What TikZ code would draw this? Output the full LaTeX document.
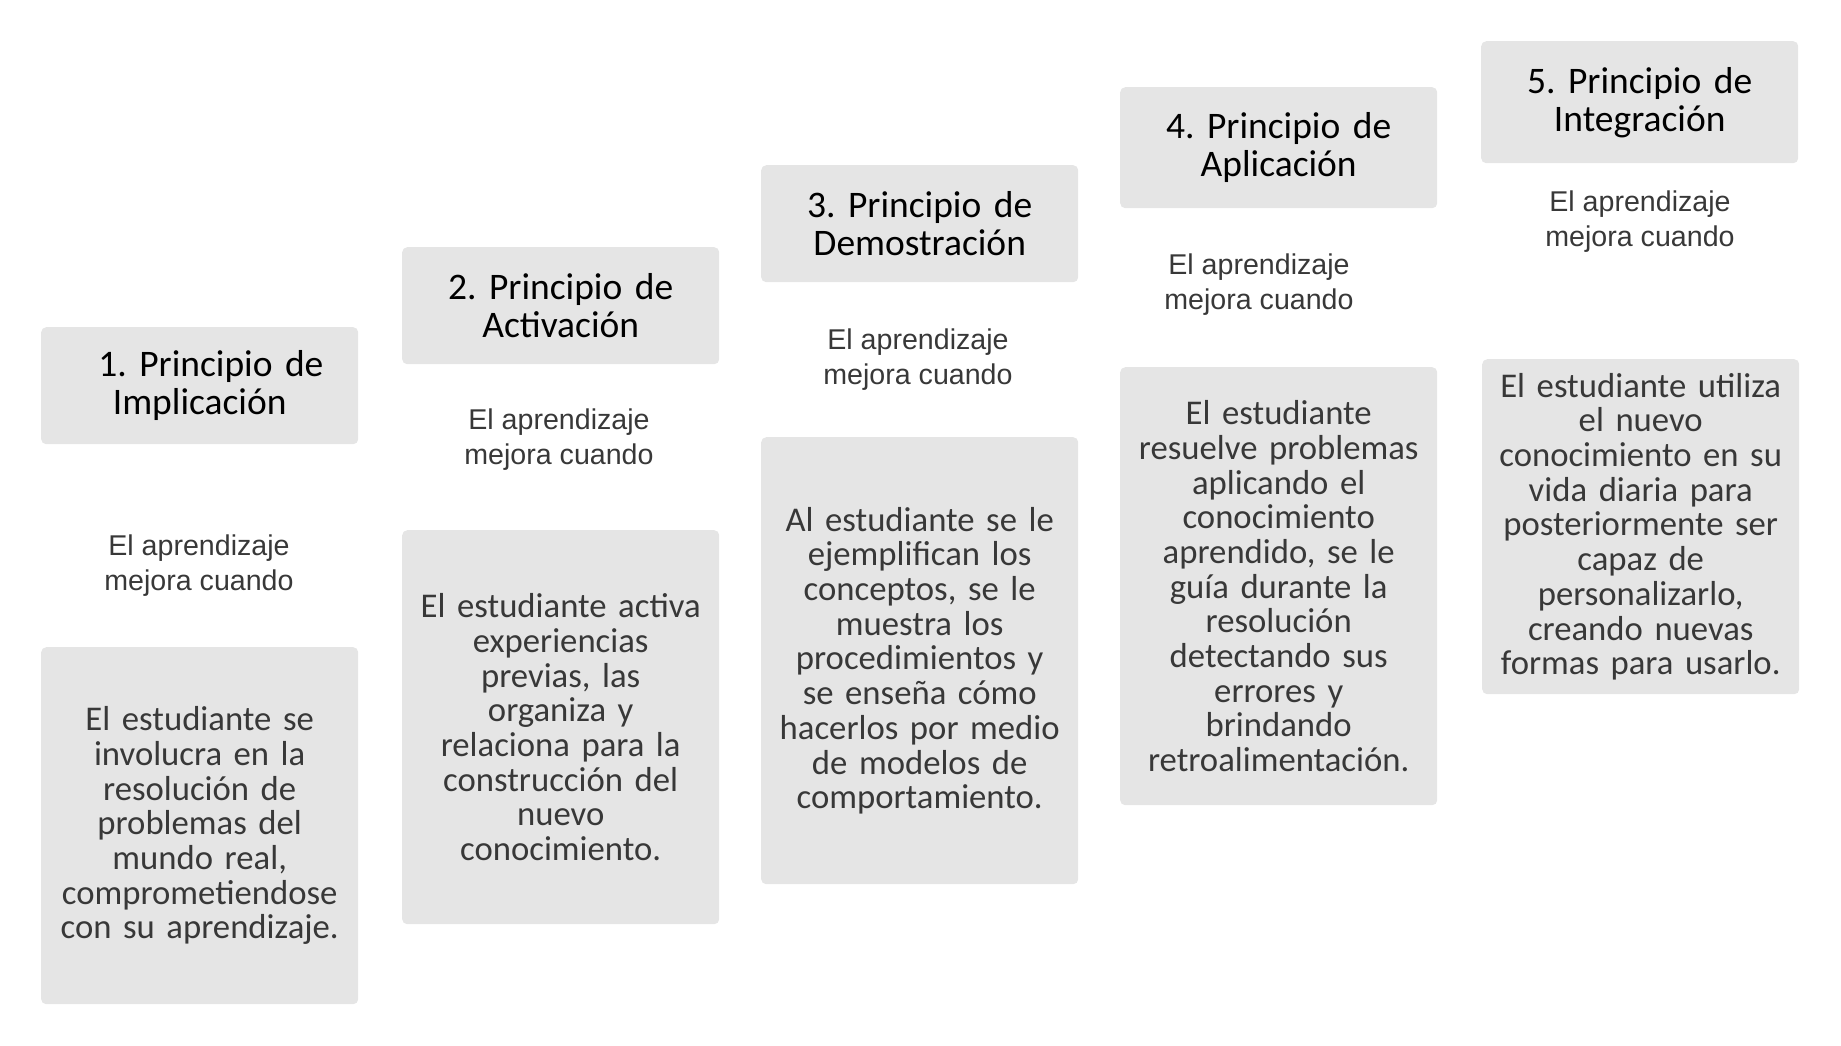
\documentclass[tikz,border=0pt]{standalone}
\usepackage{fontspec}
\newfontfamily\bodyfont{Carlito}
\newfontfamily\arialfont{Liberation Sans}
\definecolor{boxgray}{HTML}{E5E5E5}
\definecolor{bodytext}{HTML}{383838}
\frenchspacing
\begin{document}
\begin{tikzpicture}[x=1pt,y=-1pt,
  box/.style={fill=boxgray, rounded corners=5pt, draw=none, inner sep=0pt,
    anchor=north west, align=center, text width=317pt, minimum width=317pt},
  titlebox/.style={box, font=\bodyfont\frenchspacing\fontsize{37.5}{38}\selectfont, text=black},
  bodybox/.style={box, font=\bodyfont\frenchspacing\fontsize{34.7}{34.7}\selectfont, text=bodytext},
  cue/.style={font=\arialfont\fontsize{28.6}{35}\selectfont, text=bodytext,
    align=center, inner sep=0pt}]
\useasboundingbox (0,0) rectangle (1841,1045);

% titles
\node[titlebox, minimum height=117pt] (t1) at (41,327) {\hspace*{0.6em}1. Principio de\\Implicación};
\node[titlebox, minimum height=117pt] (t2) at (402,247) {2. Principio de\\Activación};
\node[titlebox, minimum height=117pt] (t3) at (761,165) {3. Principio de\\Demostración};
\node[titlebox, minimum height=121pt] (t4) at (1120,87) {4. Principio de\\Aplicación};
\node[titlebox, minimum height=122pt] (t5) at (1481,41) {5. Principio de\\Integración};

% cues
\node[cue] (m1) at (199,566) {El aprendizaje\\mejora cuando};
\node[cue] (m2) at (559,440) {El aprendizaje\\mejora cuando};
\node[cue] (m3) at (918,360) {El aprendizaje\\mejora cuando};
\node[cue] (m4) at (1259,285) {El aprendizaje\\mejora cuando};
\node[cue] (m5) at (1640,222) {El aprendizaje\\mejora cuando};

% bodies
\node[bodybox, minimum height=357pt] (b1) at (41,647) {El estudiante se\\involucra en la\\resolución de\\problemas del\\mundo real,\\comprometiendose\\con su aprendizaje.};
\node[bodybox, minimum height=394pt] (b2) at (402,530) {El estudiante activa\\experiencias\\previas, las\\organiza y\\relaciona para la\\construcción del\\nuevo\\conocimiento.};
\node[bodybox, minimum height=447pt] (b3) at (761,437) {Al estudiante se le\\ejemplifican los\\conceptos, se le\\muestra los\\procedimientos y\\se enseña cómo\\hacerlos por medio\\de modelos de\\comportamiento.};
\node[bodybox, minimum height=438pt] (b4) at (1120,367) {El estudiante\\resuelve problemas\\aplicando el\\conocimiento\\aprendido, se le\\guía durante la\\resolución\\detectando sus\\errores y\\brindando\\retroalimentación.};
\node[bodybox, minimum height=335pt] (b5) at (1482,359) {El estudiante utiliza\\el nuevo\\conocimiento en su\\vida diaria para\\posteriormente ser\\capaz de\\personalizarlo,\\creando nuevas\\formas para usarlo.};
\end{tikzpicture}
\end{document}
